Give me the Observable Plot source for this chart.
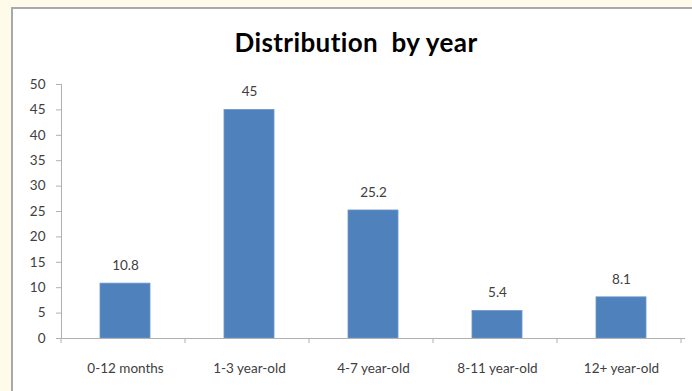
<!DOCTYPE html>
<html>
<head>
<meta charset="utf-8">
<script src="https://cdn.jsdelivr.net/npm/d3@7"></script>
<script src="https://cdn.jsdelivr.net/npm/@observablehq/plot@0.6"></script>
<style>
  html, body { margin: 0; padding: 0; }
  body { background: #fffbea; }
  #wrap { position: relative; width: 692px; height: 391px; overflow: hidden; background: #fffbea; }
  #panel { position: absolute; left: 11px; top: 7px; width: 700px; height: 400px;
           background: #ffffff; border-left: 2px solid #a9a9a9; border-top: 2px solid #a9a9a9; }
  #title { position: absolute; left: 0; top: 26px; width: 692px; padding-left: 20px; box-sizing: border-box;
           text-align: center; font-family: Lato, "Open Sans", sans-serif; font-weight: bold;
           font-size: 26px; letter-spacing: 0.4px; color: #000; white-space: pre;
           font-variant-ligatures: none; }
  #chart { position: absolute; left: 0; top: 0; }
  #chart svg { background: transparent; font-variant-ligatures: none; }
</style>
</head>
<body>
<div id="wrap">
  <div id="panel"></div>
  <div id="title">Distribution  by year</div>
  <div id="chart"></div>
</div>
<script>
// Share of the population by age group
const categories = ["0-12 months", "1-3 year-old", "4-7 year-old", "8-11 year-old", "12+ year-old"];
const values = [10.8, 45, 25.2, 5.4, 8.1];
const yTicks = [0, 5, 10, 15, 20, 25, 30, 35, 40, 45, 50];

const rows = categories.map((c, i) => ({category: c, value: values[i]}));
const font = "Lato, 'Open Sans', sans-serif";
const axisGray = "#b0b0b0";
const labelSize = 13.5;

const plot = Plot.plot({
  width: 692,
  height: 391,
  marginLeft: 61,
  marginRight: 7,
  marginTop: 84,
  marginBottom: 53,
  style: {fontFamily: font, fontSize: labelSize + "px", color: "#404040", background: "transparent"},
  x: {domain: categories, paddingInner: 0.6, paddingOuter: 0.3, label: null},
  y: {domain: [0, 50], label: null},
  marks: [
    Plot.barY(rows, {x: "category", y: "value", fill: "#4f81bd", stroke: "#6f97c9", strokeWidth: 0.8}),
    Plot.text(rows, {x: "category", y: "value", text: d => String(d.value), dy: -18,
                     fill: "#404040", fontSize: labelSize}),
    // y axis with its spine
    Plot.axisY({ticks: yTicks, tickSize: 5, tickPadding: 11, stroke: axisGray, fill: "#404040",
                tickFormat: d => String(d), fontSize: labelSize}),
    Plot.frame({anchor: "left", stroke: axisGray}),
    // x axis baseline
    Plot.ruleY([0], {stroke: axisGray}),
    Plot.axisX({tickSize: 0, tickPadding: 25, fill: "#404040", fontSize: labelSize})
  ]
});

document.getElementById("chart").appendChild(plot);

// Category boundary ticks below the baseline, spaced by the band scale's step
const xs = plot.scale("x");
const y0 = plot.scale("y").apply(0);
const [r0] = xs.range;
const bounds = d3.range(categories.length + 1).map(i => r0 + i * xs.step);
d3.select(plot).append("g")
  .selectAll("line")
  .data(bounds)
  .join("line")
  .attr("x1", d => d).attr("x2", d => d)
  .attr("y1", y0)
  .attr("y2", y0 + 5)
  .attr("stroke", axisGray);
</script>
</body>
</html>
